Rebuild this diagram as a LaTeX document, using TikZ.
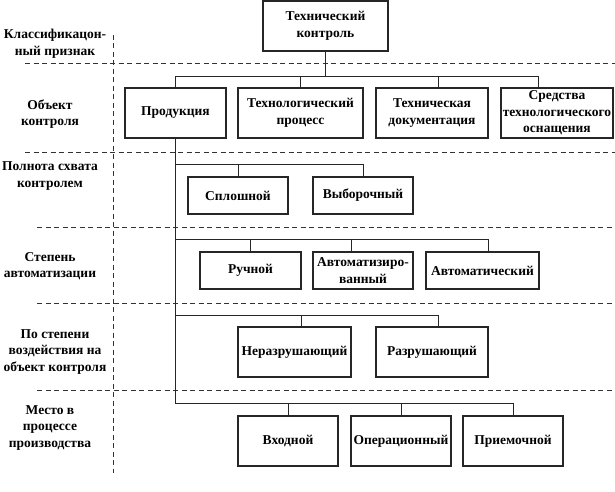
\documentclass[tikz,border=0pt]{standalone}
\usepackage{fontspec}
\setmainfont{Liberation Serif}
\begin{document}
\begin{tikzpicture}[x=1pt,y=-1pt,
  txt/.style={font=\bfseries\fontsize{13.5}{16.5}\selectfont},
  box/.style={txt, draw=black!85, line width=1.1pt, inner sep=0pt, align=center},
  lab/.style={txt, align=center, inner sep=0pt},
  conn/.style={draw=black!85, line width=0.8pt},
  sep/.style={draw=black!80, line width=0.7pt, dash pattern=on 5pt off 3.5pt}]
\useasboundingbox[fill=white] (0,0) rectangle (615,492);

% separators
\draw[sep] (25,63) -- (615,63);
\draw[sep] (25,152) -- (615,152);
\draw[sep] (37,227) -- (615,227);
\draw[sep] (37,303) -- (615,303);
\draw[sep] (37,390) -- (615,390);
\draw[sep] (113,35) -- (113,473);

% labels
\node[lab] (l1) at (55,44) {Классификацон-\\ный признак};
\node[lab] (l2) at (50,114) {Объект\\контроля};
\node[lab] (l3) at (50,176) {Полнота схвата\\контролем};
\node[lab] (l4) at (50,266) {Степень\\автоматизации};
\node[lab] (l5) at (55,352) {По степени\\воздействия на\\объект контроля};
\node[lab] (l6) at (50,428) {Место в\\процессе\\производства};

% boxes
\node[box, minimum width=125pt, minimum height=50pt] (top) at (325.5,26) {Технический\\контроль};
\node[box, minimum width=101pt, minimum height=50pt] (prod) at (175.5,113) {Продукция};
\node[box, minimum width=125pt, minimum height=50pt] (tproc) at (300.5,113) {Технологический\\процесс};
\node[box, minimum width=112pt, minimum height=50pt] (tdoc) at (432,113) {Техническая\\документация};
\node[box, minimum width=112pt, minimum height=50pt] (sred) at (557,113) {Средства\\технологического\\оснащения};

\node[box, minimum width=100pt, minimum height=37pt] (splosh) at (238,195.5) {Сплошной};
\node[box, minimum width=100pt, minimum height=37pt] (vybor) at (363,195.5) {Выборочный};

\node[box, minimum width=101pt, minimum height=37pt] (ruch) at (250.5,270.5) {Ручной};
\node[box, minimum width=100pt, minimum height=37pt] (avtz) at (363,270.5) {Автоматизиро-\\ванный};
\node[box, minimum width=113pt, minimum height=37pt] (avt) at (482.5,270.5) {Автоматический};

\node[box, minimum width=113pt, minimum height=50pt] (nerazr) at (294.5,352) {Неразрушающий};
\node[box, minimum width=112pt, minimum height=50pt] (razr) at (432,352) {Разрушающий};

\node[box, minimum width=100pt, minimum height=50pt] (vhod) at (288,441) {Входной};
\node[box, minimum width=100pt, minimum height=50pt] (oper) at (401,441) {Операционный};
\node[box, minimum width=100pt, minimum height=50pt] (priem) at (513,441) {Приемочной};

% bus levels
\coordinate (b2) at (0,76);
\coordinate (b3) at (0,164);
\coordinate (b4) at (0,239);
\coordinate (b5) at (0,315);
\coordinate (b6) at (0,403);

% row 2
\draw[conn] (top.south) -- (top.south |- b2);
\draw[conn] (prod.north) -- (prod.north |- b2) -| ([xshift=-19pt]sred.north);
\draw[conn] (tproc.north) -- (tproc.north |- b2);
\draw[conn] ([xshift=6pt]tdoc.north) -- ([xshift=6pt]tdoc.north |- b2);

% trunk
\draw[conn] (prod.south) |- (priem.north |- b6) -- (priem.north);

% row 3
\draw[conn] (prod.south |- b3) -| (vybor.north);
\draw[conn] (splosh.north) -- (splosh.north |- b3);

% row 4
\draw[conn] (prod.south |- b4) -| ([xshift=5.5pt]avt.north);
\draw[conn] (ruch.north) -- (ruch.north |- b4);
\draw[conn] ([xshift=-12pt]avtz.north) -- ([xshift=-12pt]avtz.north |- b4);

% row 5
\draw[conn] (prod.south |- b5) -| ([xshift=6pt]razr.north);
\draw[conn] ([xshift=6.5pt]nerazr.north) -- ([xshift=6.5pt]nerazr.north |- b5);

% row 6
\draw[conn] (vhod.north) -- (vhod.north |- b6);
\draw[conn] (oper.north) -- (oper.north |- b6);
\end{tikzpicture}
\end{document}
